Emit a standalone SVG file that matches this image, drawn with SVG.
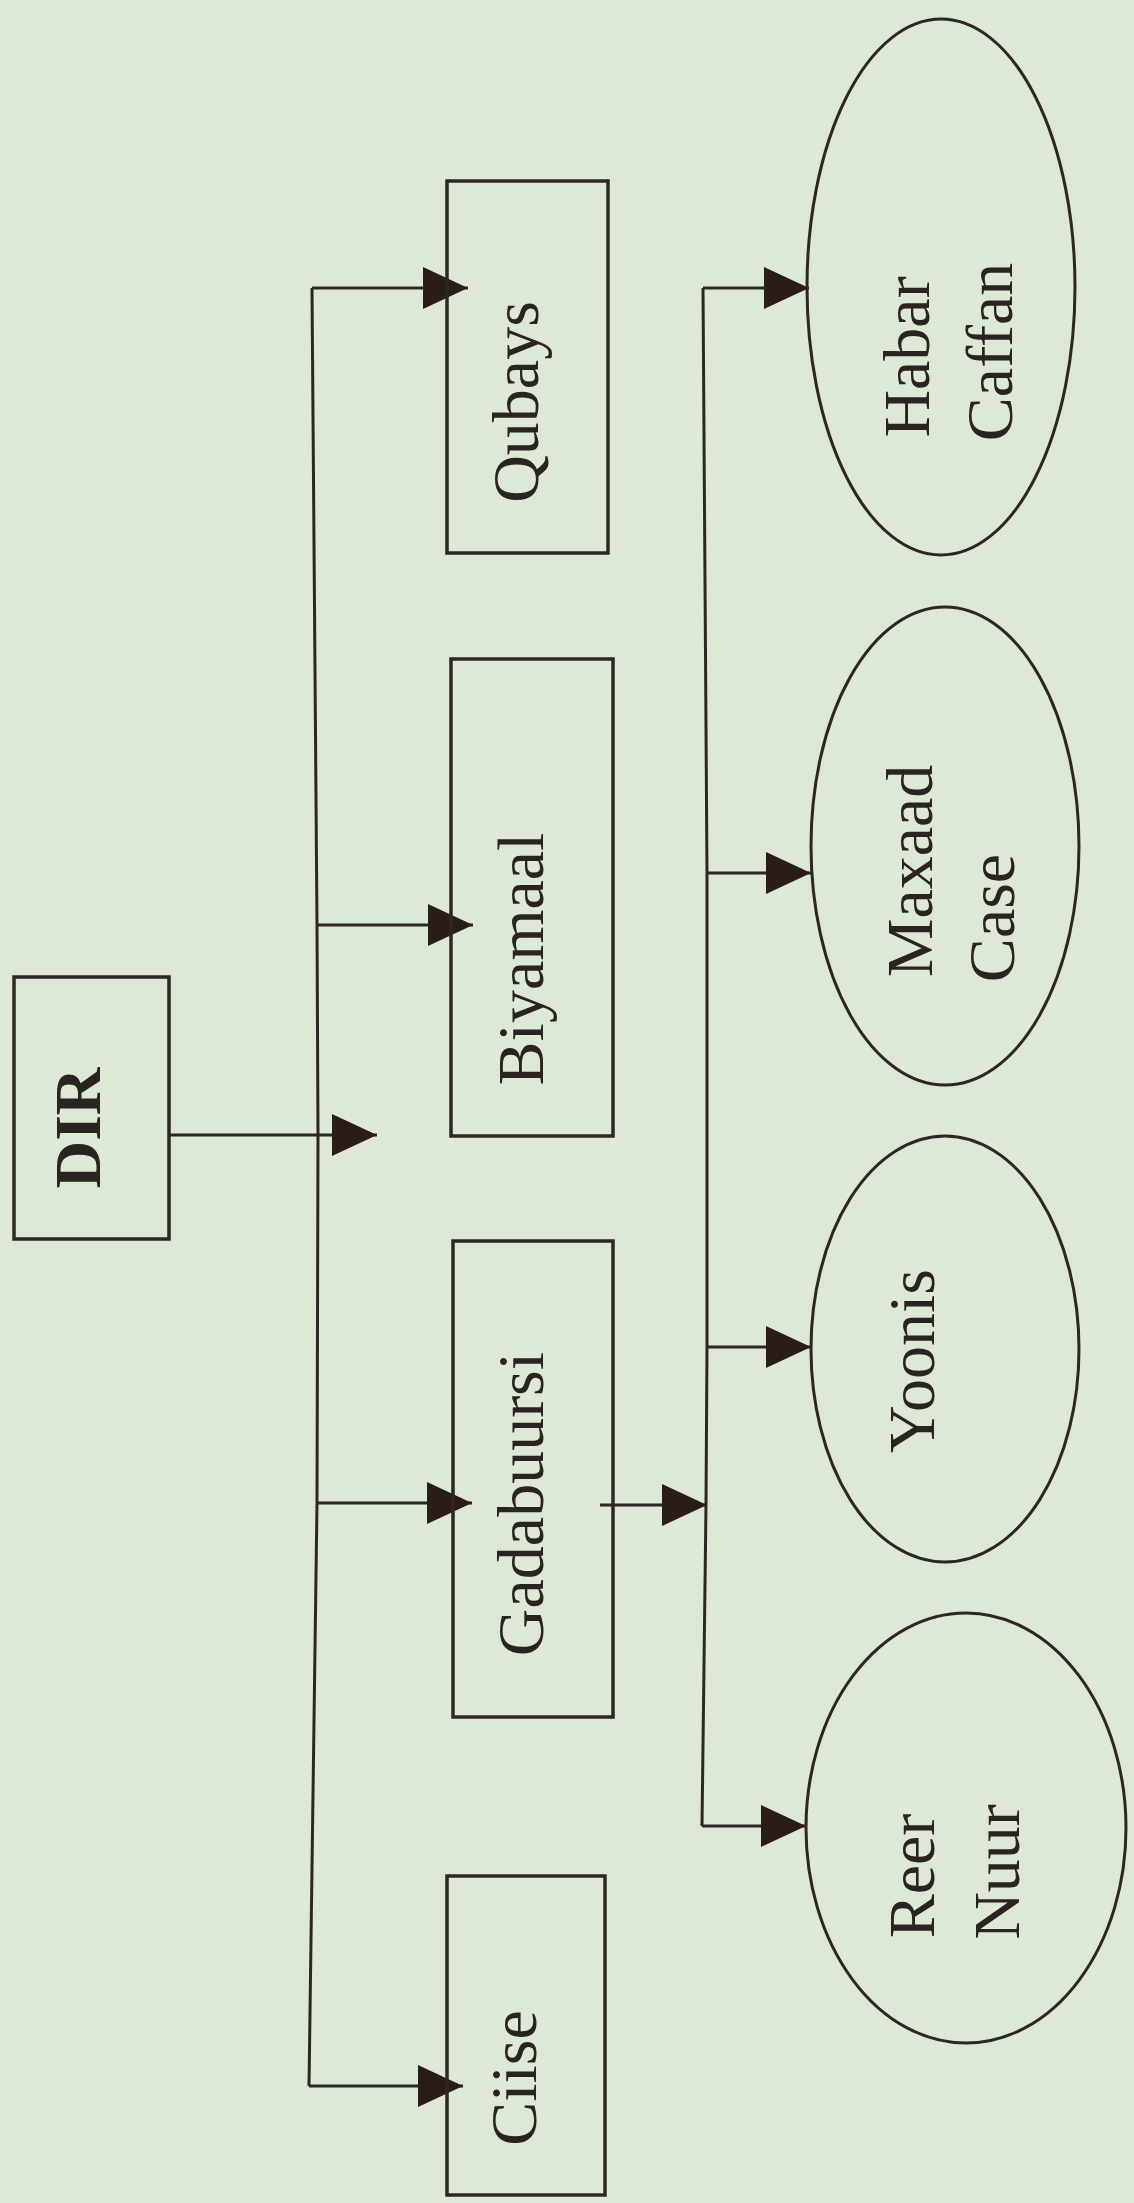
<svg xmlns="http://www.w3.org/2000/svg" width="1134" height="2203" viewBox="0 0 1134 2203">
<style>
.box{fill:none;stroke:#2d2723;stroke-width:3.5}
.ell{fill:none;stroke:#2d2723;stroke-width:3}
.ln{fill:none;stroke:#2d2723;stroke-width:3}
.t{font-family:"Liberation Serif","Times New Roman",serif;font-size:66px;fill:#2a2420;text-anchor:middle}
.b{font-weight:bold}
</style>
<defs>
<marker id="ah" markerUnits="userSpaceOnUse" markerWidth="46" markerHeight="44" refX="45" refY="21" orient="auto">
<path d="M0,0 L45,21 L0,42 Z" fill="#2a1d17"/>
</marker>
</defs>
<rect width="1134" height="2203" fill="#dde8d7"/>
<g id="connectors">
<path class="ln" d="M312,288 L317,925 L318,1135 L317,1503 L309,2086"/>
<path class="ln" d="M703,288 L707,873 L707,1347 L706,1505 L702,1826"/>
<line class="ln" x1="312" y1="288" x2="468" y2="288" marker-end="url(#ah)"/>
<line class="ln" x1="317" y1="925" x2="473" y2="925" marker-end="url(#ah)"/>
<line class="ln" x1="170" y1="1135" x2="377" y2="1135" marker-end="url(#ah)"/>
<line class="ln" x1="317" y1="1503" x2="472" y2="1503" marker-end="url(#ah)"/>
<line class="ln" x1="309" y1="2086" x2="463" y2="2086" marker-end="url(#ah)"/>
<line class="ln" x1="600" y1="1505" x2="707" y2="1505" marker-end="url(#ah)"/>
<line class="ln" x1="703" y1="288" x2="809" y2="288" marker-end="url(#ah)"/>
<line class="ln" x1="707" y1="873" x2="811" y2="873" marker-end="url(#ah)"/>
<line class="ln" x1="707" y1="1347" x2="811" y2="1347" marker-end="url(#ah)"/>
<line class="ln" x1="702" y1="1826" x2="806" y2="1826" marker-end="url(#ah)"/>
</g>
<g id="dir">
<rect class="box" x="14" y="977" width="155" height="262"/>
<text class="t b" transform="translate(100,1128) rotate(-90)">DIR</text>
</g>
<g id="qubays">
<rect class="box" x="447" y="181" width="161" height="372"/>
<text class="t" transform="translate(538,402) rotate(-90)">Qubays</text>
</g>
<g id="biyamaal">
<rect class="box" x="451" y="659" width="162" height="477"/>
<text class="t" transform="translate(543,959) rotate(-90)">Biyamaal</text>
</g>
<g id="gadabuursi">
<rect class="box" x="453" y="1241" width="160" height="476"/>
<text class="t" transform="translate(543,1504) rotate(-90)">Gadabuursi</text>
</g>
<g id="ciise">
<rect class="box" x="447" y="1876" width="158" height="319"/>
<text class="t" transform="translate(536,2078) rotate(-90)">Ciise</text>
</g>
<g id="habar-caffan">
<ellipse class="ell" cx="941" cy="287" rx="134" ry="268"/>
<text class="t" transform="translate(929,357) rotate(-90)">Habar</text>
<text class="t" transform="translate(1012,352) rotate(-90)">Caffan</text>
</g>
<g id="maxaad-case">
<ellipse class="ell" cx="945" cy="846" rx="134" ry="239"/>
<text class="t" transform="translate(932,871) rotate(-90)">Maxaad</text>
<text class="t" transform="translate(1014,918) rotate(-90)">Case</text>
</g>
<g id="yoonis">
<ellipse class="ell" cx="945" cy="1349" rx="134" ry="213"/>
<text class="t" transform="translate(934,1361) rotate(-90)">Yoonis</text>
</g>
<g id="reer-nuur">
<ellipse class="ell" cx="966" cy="1828" rx="160" ry="215"/>
<text class="t" transform="translate(934,1876) rotate(-90)">Reer</text>
<text class="t" transform="translate(1019,1872) rotate(-90)">Nuur</text>
</g>
</svg>
